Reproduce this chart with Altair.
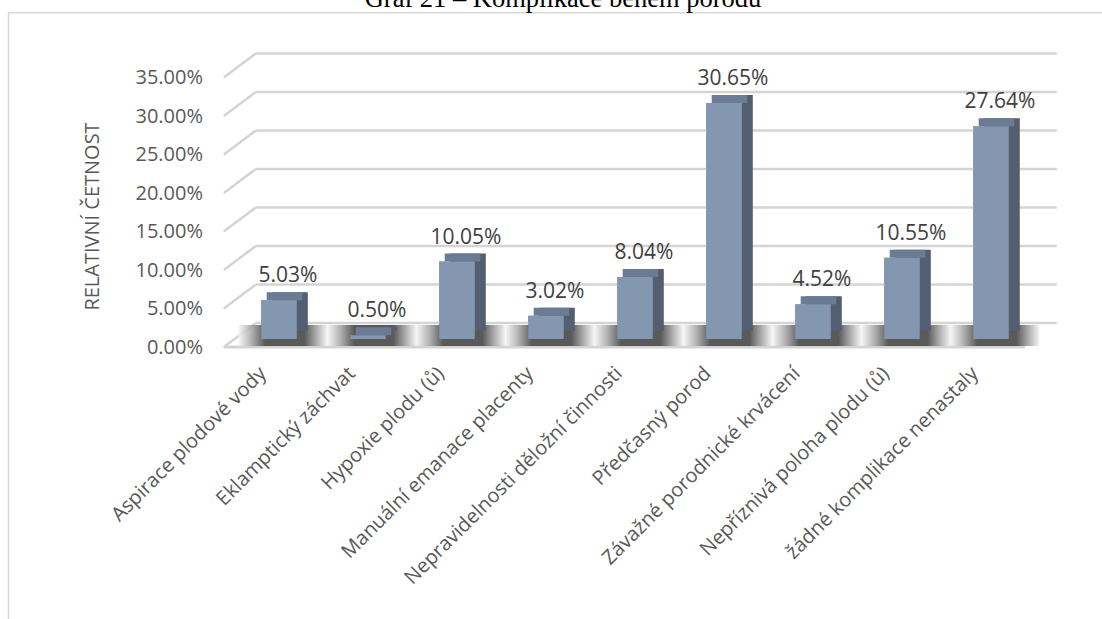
import altair as alt
import pandas as pd

# ---- data ----
categories = [
    "Aspirace plodové vody",
    "Eklamptický záchvat",
    "Hypoxie plodu (ů)",
    "Manuální emanace placenty",
    "Nepravidelnosti děložní činnosti",
    "Předčasný porod",
    "Závažné porodnické krvácení",
    "Nepříznivá poloha plodu (ů)",
    "žádné komplikace nenastaly",
]
values = [0.0503, 0.0050, 0.1005, 0.0302, 0.0804, 0.3065, 0.0452, 0.1055, 0.2764]
grid_values = [0.0, 0.05, 0.10, 0.15, 0.20, 0.25, 0.30, 0.35]
title_text = "Graf 21 – Komplikace během porodu"
y_title = "RELATIVNÍ ČETNOST"

bars_df = pd.DataFrame({"cat": categories, "value": values, "zero": [0.0] * len(values)})
grid_df = pd.DataFrame({"value": grid_values})
base_df = pd.DataFrame({"value": [0.0]})
title_df = pd.DataFrame({"t": [title_text]})

# ---- geometry / style ----
W, H = 801, 269.5
PAD = {"left": 234.5, "top": 69.5, "right": 66.5, "bottom": 280}
FONT = "Open Sans"
TXT = "#595959"
GRID = "#d4d4d4"
FRONT = "#8497b0"
SIDE = "#535f71"
TOP = "#6a7b93"

yscale = alt.Scale(domain=[0, 0.35], nice=False, zero=True)
xscale = alt.Scale(domain=categories, paddingInner=0.6, paddingOuter=0.3)

x_axis = alt.Axis(
    title=None, labelAngle=-45, labelAlign="right", labelBaseline="middle",
    labelPadding=31, labelOffset=-16, ticks=False, tickSize=0, domain=False, grid=False,
    labelFont=FONT, labelFontSize=20, labelColor=TXT, labelOverlap=False, labelLimit=0,
)
y_axis = alt.Axis(
    values=grid_values, format=".2%", labelOffset=8, labelPadding=32,
    ticks=False, tickSize=0, domain=False, grid=False,
    labelFont=FONT, labelFontSize=20, labelColor=TXT,
    title=y_title, titleFont=FONT, titleFontSize=20, titleFontWeight="normal",
    titleColor=TXT, titleX=-142.5, titleY=146.5,
    titleAlign="center", titleBaseline="middle",
)

X = alt.X("cat:N", scale=xscale, axis=x_axis)
Y = alt.Y("value:Q", scale=yscale, axis=y_axis)
Yz = alt.Y("zero:Q", scale=yscale, axis=y_axis)

# floor front edge
floor_front = alt.Chart(base_df).mark_rule(yOffset=8, color=GRID, strokeWidth=3).encode(
    y=Y, x=alt.value(-10.7), x2=alt.value(790.3)
)

# back wall gridlines
grid_back = alt.Chart(grid_df).mark_rule(yOffset=-16, color=GRID, strokeWidth=2.5).encode(
    y=Y, x=alt.value(21.3), x2=alt.value(822.3)
)
# left wall slanted connectors
grid_left = alt.Chart(grid_df).mark_rule(
    yOffset=8, y2Offset=-16, color=GRID, strokeWidth=2.5
).encode(y=Y, y2=alt.Y2("value:Q"), x=alt.value(-10.7), x2=alt.value(21.3))

# floor shadows
shadow_grad = alt.LinearGradient(
    gradient="linear", x1=0, x2=1, y1=0, y2=0,
    stops=[
        alt.GradientStop(offset=0.0, color="#f4f4f4"),
        alt.GradientStop(offset=0.14, color="#a8a8a8"),
        alt.GradientStop(offset=0.30, color="#3c3c3c"),
        alt.GradientStop(offset=0.74, color="#3c3c3c"),
        alt.GradientStop(offset=0.90, color="#b0b0b0"),
        alt.GradientStop(offset=1.0, color="#f4f4f4"),
    ],
)
shadows = alt.Chart(bars_df).mark_bar(
    color=shadow_grad, yOffset=7, y2Offset=-14, xOffset=4,
    width=alt.RelativeBandSize(2.5), opacity=0.85,
).encode(x=X, y=Yz, y2=alt.Y2("zero:Q"))

# 3D bar: side (offset back bar), top strip, front face
side = alt.Chart(bars_df).mark_bar(color=SIDE, xOffset=11, yOffset=-8, y2Offset=-8).encode(
    x=X, y=Y, y2=alt.Y2("zero:Q")
)
top = alt.Chart(bars_df).mark_bar(color=TOP, xOffset=5.5, yOffset=-8, y2Offset=0).encode(
    x=X, y=Y, y2=alt.Y2("value:Q")
)
front = alt.Chart(bars_df).mark_bar(color=FRONT).encode(x=X, y=Y, y2=alt.Y2("zero:Q"))

labels = alt.Chart(bars_df).mark_text(
    font=FONT, fontSize=21, color="#404040", dy=-24, dx=9, baseline="middle", align="center"
).encode(x=X, y=Y, text=alt.Text("value:Q", format=".2%"))

# title (partly cut off at the top, as in the reference)
title = alt.Chart(title_df).mark_text(
    font="Liberation Serif", fontSize=26.5, color="#000000", align="center", baseline="alphabetic"
).encode(x=alt.value(328.5), y=alt.value(-62.5), text="t:N")

# outer frame lines
frame_top = alt.Chart(base_df).mark_rule(color="#d9d9d9", strokeWidth=1.5).encode(
    x=alt.value(-226.5), x2=alt.value(880), y=alt.value(-56.8)
)
frame_left = alt.Chart(base_df).mark_rule(color="#d9d9d9", strokeWidth=1.5).encode(
    x=alt.value(-226), y=alt.value(-56.8), y2=alt.value(560)
)

chart = alt.layer(
    front, frame_top, frame_left, floor_front, grid_back, grid_left, shadows,
    side, top, front, labels, title,
).properties(
    width=W, height=H,
    autosize=alt.AutoSizeParams(type="none"),
    padding=PAD,
    background="white",
).configure_view(stroke=None)

chart.save("out.html", embed_options={"renderer": "svg", "actions": False})
